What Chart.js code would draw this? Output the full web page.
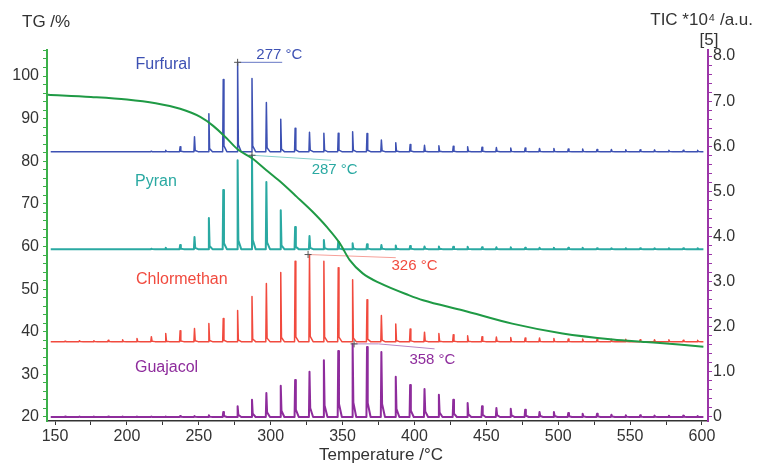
<!DOCTYPE html>
<html lang="de">
<head>
<meta charset="UTF-8">
<title>TG / TIC Pyrolyse</title>
<script src="https://cdn.jsdelivr.net/npm/chart.js"></script>
<style>
  html, body { margin: 0; padding: 0; background: #fff; }
  canvas { display: block; }
</style>
</head>
<body>
<canvas id="chart" width="762" height="464"></canvas>
<script>
// Temperaturen der einzelnen MS-Scans (°C)
const peakTemps = [157, 167, 177, 187, 197, 207, 217, 227, 237, 247, 257, 267, 277, 287, 297,
  307, 317, 327, 337, 347, 357, 367, 377, 387, 397, 407, 417, 427, 437, 447,
  457, 467, 477, 487, 497, 507, 517, 527, 537, 547, 557, 567, 577, 587, 597];

// Peakhöhen TIC *10^4 (über der jeweiligen Grundlinie)
const furfural = [0, 0, 0, 0, 0, 0, 0.01, 0.03, 0.11, 0.33, 0.84, 1.6, 1.98, 1.62, 1.09,
  0.72, 0.52, 0.43, 0.41, 0.41, 0.44, 0.4, 0.26, 0.2, 0.16, 0.14, 0.13, 0.12, 0.11, 0.1,
  0.09, 0.08, 0.08, 0.07, 0.07, 0.06, 0.06, 0.05, 0.05, 0.04, 0.04, 0.04, 0.03, 0.03, 0.03];
const pyran = [0, 0, 0, 0, 0, 0, 0.01, 0.03, 0.09, 0.27, 0.69, 1.31, 1.97, 2.08, 1.49,
  0.86, 0.49, 0.29, 0.2, 0.16, 0.13, 0.11, 0.09, 0.08, 0.07, 0.06, 0.06, 0.05, 0.05, 0.04,
  0.04, 0.04, 0.03, 0.03, 0.03, 0.03, 0.03, 0.02, 0.02, 0.02, 0.02, 0.02, 0.02, 0.02, 0.02];
const chlormethan = [0.01, 0.02, 0.02, 0.03, 0.04, 0.07, 0.11, 0.18, 0.24, 0.29, 0.4, 0.51, 0.69, 1.0, 1.29,
  1.53, 1.78, 1.93, 1.78, 1.64, 1.37, 0.93, 0.58, 0.39, 0.28, 0.21, 0.18, 0.15, 0.13, 0.11,
  0.1, 0.09, 0.08, 0.08, 0.07, 0.06, 0.06, 0.05, 0.05, 0.05, 0.04, 0.04, 0.04, 0.03, 0.03];
const guajacol = [0.01, 0.01, 0.01, 0.01, 0.01, 0.01, 0.01, 0.01, 0.02, 0.02, 0.04, 0.11, 0.24, 0.38, 0.53,
  0.69, 0.82, 1.0, 1.26, 1.46, 1.62, 1.55, 1.44, 0.89, 0.71, 0.62, 0.49, 0.38, 0.31, 0.24,
  0.2, 0.18, 0.16, 0.11, 0.11, 0.09, 0.07, 0.07, 0.05, 0.04, 0.04, 0.03, 0.03, 0.03, 0.02];

// Grundlinien (Versatz auf der TIC-Achse)
const baselines = [5.88, 3.72, 1.67, 0.0];
const names = ['Furfural', 'Pyran', 'Chlormethan', 'Guajacol'];
const peakMax = [277, 287, 326, 358];

// TG-Kurve (Masse in %)
const tgTemps = [145, 175, 200, 220, 237, 251, 260, 269, 277, 287, 297, 306, 318, 329, 339,
  348, 355, 364, 376, 396, 406, 434, 468, 503, 538, 561, 584, 601];
const tgValues = [95.6, 95.1, 94.5, 93.6, 92.3, 90.4, 88.3, 85.5, 82.8, 80.7, 77.9, 75.4, 71.7, 68.2, 64.6,
  60.8, 56.8, 53.7, 51.4, 48.6, 47.4, 45.0, 41.9, 39.6, 38.2, 37.6, 37.0, 36.5];

// Achsenbeschriftungen
const xLabels = [150, 200, 250, 300, 350, 400, 450, 500, 550, 600];
const tgLabels = [20, 30, 40, 50, 60, 70, 80, 90, 100];
const ticLabels = [0, 1, 2, 3, 4, 5, 6, 7, 8];

const colors = ['#3d51b3', '#2aa9a2', '#f14a3e', '#8e2c9c'];
const leaderColors = ['#6677c4', '#86d0ca', '#f6a099', '#b785c4'];
const series = [furfural, pyran, chlormethan, guajacol];
const tails = [0.08, 0.1, 0.06, 0.2];

function spikes(base, heights, tail) {
  const pts = [{ x: 147, y: base }];
  peakTemps.forEach((t, i) => {
    const h = heights[i];
    if (!h) return;
    pts.push({ x: t - 0.4, y: base });
    pts.push({ x: t, y: base + h });
    pts.push({ x: t + 0.5, y: base + h * tail });
    pts.push({ x: t + 2.5, y: base });
  });
  pts.push({ x: 601, y: base });
  return pts;
}

// Hilfslinien von der Peakspitze zur Beschriftung: [dT, dTIC]
const leaders = [
  [[0, 0], [31, 0]],
  [[0, 0], [55, -0.11]],
  [[0, 0], [61, -0.07]],
  [[0, 0], [17, 0], [56, -0.11]]
];
const peakTextPos = [[290, 8.02], [328.5, 5.47], [384, 3.35], [396.5, 1.26]];
const nameTextPos = [[206, 7.8], [205.6, 5.21], [206.3, 3.04], [205.6, 1.09]];

const datasets = [{
  label: 'TG',
  data: tgTemps.map((t, i) => ({ x: t, y: tgValues[i] })),
  yAxisID: 'yTG',
  borderColor: '#1f9a45',
  borderWidth: 2,
  pointRadius: 0,
  tension: 0.35,
  cubicInterpolationMode: 'monotone'
}];

series.forEach((h, k) => {
  const top = baselines[k] + Math.max(...h);
  datasets.push({
    label: names[k] + ' Marker',
    data: leaders[k].map(p => ({ x: peakMax[k] + p[0], y: top + p[1] })),
    yAxisID: 'yTIC',
    borderColor: leaderColors[k],
    borderWidth: 1,
    pointStyle: 'cross',
    pointRadius: ctx => ctx.dataIndex === 0 ? 3.5 : 0,
    pointBorderColor: '#555',
    pointBorderWidth: 1
  });
});

series.forEach((h, k) => {
  datasets.push({
    label: names[k],
    data: spikes(baselines[k], h, tails[k]),
    yAxisID: 'yTIC',
    borderColor: colors[k],
    borderWidth: k === 1 || k === 3 ? 2 : 1.5,
    borderJoinStyle: 'round',
    pointRadius: 0,
    tension: 0
  });
});

const font = { family: '"Liberation Sans", Arial, sans-serif', size: 16 };
const textColor = '#333';

const textPlugin = {
  id: 'texts',
  afterDraw(chart) {
    const c = chart.ctx;
    const xs = chart.scales.x, ys = chart.scales.yTIC;
    c.save();
    c.textBaseline = 'middle';
    c.font = '16px "Liberation Sans", Arial, sans-serif';
    c.textAlign = 'left';
    names.forEach((n, k) => {
      c.fillStyle = colors[k];
      c.fillText(n, xs.getPixelForValue(nameTextPos[k][0]), ys.getPixelForValue(nameTextPos[k][1]));
    });
    c.font = '15px "Liberation Sans", Arial, sans-serif';
    peakMax.forEach((t, k) => {
      c.fillStyle = colors[k];
      c.fillText(t + ' °C', xs.getPixelForValue(peakTextPos[k][0]), ys.getPixelForValue(peakTextPos[k][1]));
    });
    c.fillStyle = textColor;
    c.font = '17px "Liberation Sans", Arial, sans-serif';
    c.fillText('TG /%', 22, 22);
    c.textAlign = 'right';
    c.fillText('TIC *10\u2074 /a.u.', 753, 20);
    c.textAlign = 'center';
    c.fillText('[5]', 709, 40);
    c.fillText('Temperature /°C', 381, 455);
    c.restore();
  }
};

function range(a, b, step) {
  const out = [];
  for (let v = a; v <= b + 1e-9; v += step) out.push(Math.round(v * 100) / 100);
  return out;
}

new Chart(document.getElementById('chart'), {
  type: 'line',
  data: { datasets },
  options: {
    responsive: false,
    animation: false,
    devicePixelRatio: 1,
    layout: { padding: { top: 50, left: 0, right: 0, bottom: 0 } },
    plugins: { legend: { display: false }, tooltip: { enabled: false } },
    scales: {
      x: {
        type: 'linear',
        min: 144.4,
        max: 604.2,
        afterBuildTicks: s => { s.ticks = range(150, 600, 25).map(v => ({ value: v })); },
        ticks: {
          autoSkip: false, maxRotation: 0, padding: 2, font, color: textColor,
          callback: v => xLabels.includes(v) ? String(v) : ''
        },
        grid: { drawOnChartArea: false, tickLength: 4, color: '#333', lineWidth: 1 },
        border: { color: '#333', width: 1.5 },
        afterFit: s => { s.height = 43; }
      },
      yTG: {
        type: 'linear',
        position: 'left',
        min: 19.06,
        max: 106.1,
        afterBuildTicks: s => { s.ticks = range(20, 106, 2).map(v => ({ value: v })); },
        ticks: {
          autoSkip: false, padding: 4, font, color: textColor,
          callback: v => tgLabels.includes(v) ? String(v) : ''
        },
        grid: { drawOnChartArea: false, tickLength: 4, color: '#3cb04a', lineWidth: 1 },
        border: { color: '#3cb04a', width: 2 },
        afterFit: s => { s.width = 47; }
      },
      yTIC: {
        type: 'linear',
        position: 'right',
        min: -0.089,
        max: 8.133,
        afterBuildTicks: s => { s.ticks = range(0, 8, 0.2).map(v => ({ value: v })); },
        ticks: {
          autoSkip: false, padding: 1, font, color: textColor,
          callback: v => ticLabels.includes(v) ? (v === 0 ? '0' : v.toFixed(1)) : ''
        },
        grid: { drawOnChartArea: false, tickLength: 4, color: '#9b35a8', lineWidth: 1 },
        border: { color: '#9b35a8', width: 2 },
        afterFit: s => { s.width = 54; }
      }
    }
  },
  plugins: [textPlugin]
});
</script>
</body>
</html>
